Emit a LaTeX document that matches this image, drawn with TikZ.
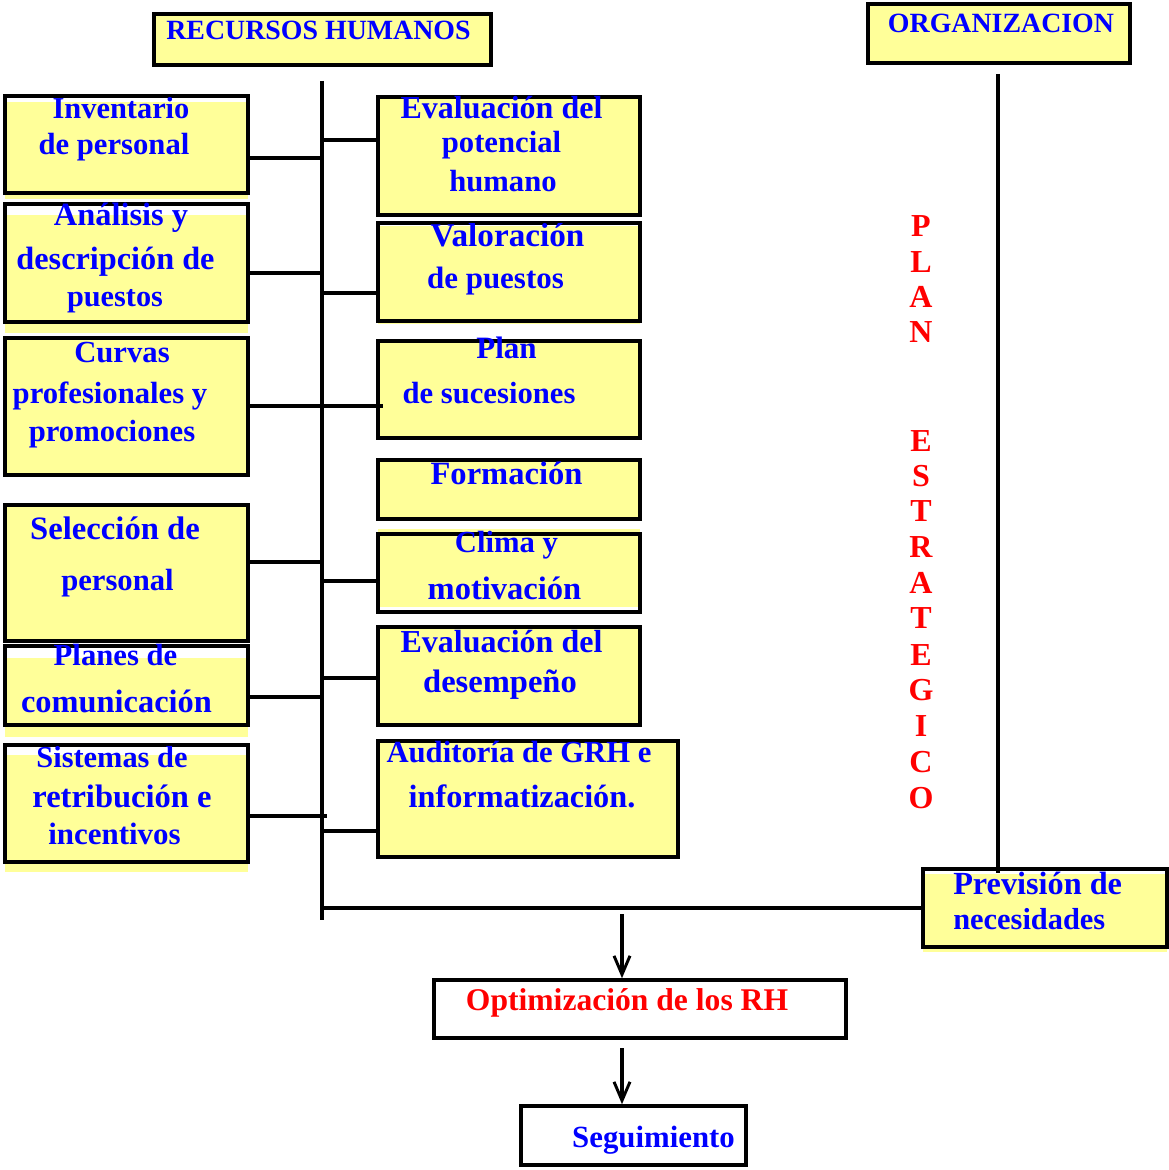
\documentclass[tikz,border=0pt]{standalone}
\usepackage{fontspec}
\setmainfont{Liberation Serif}
\usetikzlibrary{arrows.meta,fit}
\definecolor{boxfill}{RGB}{255,255,153}
\definecolor{txtblue}{RGB}{0,0,255}
\definecolor{txtred}{RGB}{255,0,0}

% yellow box: name, x1, y1, x2, y2, vertical shift of the yellow fill
\newcommand\hrbox[6]{%
  \fill[boxfill] ({#2},{#3+(#6)}) rectangle ({#4},{#5+(#6)});
  \node[frame, fit={(#2,#3) (#4,#5)}] (#1) {};
}
% one line of text: name, x, baseline y, style, text
\newcommand\hrline[5]{%
  \node[#4] (#1) at (#2,#3) {#5};
}

\begin{document}
\begin{tikzpicture}[x=0.75pt,y=-0.75pt,
  frame/.style={draw=black, line width=2.7pt, inner sep=0pt},
  plainbox/.style={frame, fill=white},
  conn/.style={draw=black, line width=2.4pt},
  flow/.style={conn, -{Straight Barb[length=14pt,width=12pt,line width=2.2pt]}},
  fs/.style={font=\fontsize{#1}{#1}\selectfont\bfseries},
  lbl/.style={text=txtblue, fs=23, inner sep=0pt, anchor=base},
  lblw/.style={lbl, anchor=base west},
  head/.style={lbl, fs=20.9},
  redlbl/.style={lbl, text=txtred},
  vletter/.style={text=txtred, fs=24, inner sep=0pt, anchor=center}
]
\useasboundingbox (0,0) rectangle (1168,1170);

% headers
\hrbox{rh}{154}{14}{491}{65}{0}
\hrbox{org}{868}{4}{1130}{63}{0}

% left column
\hrbox{inv}{5}{96}{248}{193}{6}
\hrbox{ana}{5}{204}{248}{322}{11}
\hrbox{cur}{5}{338}{248}{475}{0}
\hrbox{sel}{5}{505}{248}{641}{0}
\hrbox{pla}{5}{646}{248}{725}{12}
\hrbox{sis}{5}{745}{248}{862}{10}

% right column
\hrbox{evp}{378}{97}{640}{215}{2}
\hrbox{val}{378}{223}{640}{321}{3}
\hrbox{suc}{378}{341}{640}{438}{0}
\hrbox{for}{378}{460}{640}{519}{0}
\hrbox{cli}{378}{534}{640}{612}{-5}
\hrbox{evd}{378}{627}{640}{725}{0}
\hrbox{aud}{378}{741}{678}{857}{0}

% forecast box
\hrbox{pre}{923}{869}{1167}{947}{5}

% result boxes
\node[plainbox, fit={(434,980) (846,1038)}] (opt) {};
\node[plainbox, fit={(521,1106) (746,1165)}] (seg) {};

% trunk and branch points
\coordinate (trunkTop) at (322,81);
\coordinate (trunkBot) at (322,920);
\draw[conn] (trunkTop) -- (trunkBot);

\coordinate (jInv) at (322,158);
\coordinate (jAna) at (322,273);
\coordinate (jCur) at (383,406);
\coordinate (jSel) at (322,562);
\coordinate (jPla) at (322,697);
\coordinate (jSis) at (327,816);
\draw[conn] (inv.east |- jInv) -- (jInv);
\draw[conn] (ana.east |- jAna) -- (jAna);
\draw[conn] (cur.east |- jCur) -- (jCur);
\draw[conn] (sel.east |- jSel) -- (jSel);
\draw[conn] (pla.east |- jPla) -- (jPla);
\draw[conn] (sis.east |- jSis) -- (jSis);

\coordinate (jEvp) at (322,140);
\coordinate (jVal) at (322,293);
\coordinate (jCli) at (322,581);
\coordinate (jEvd) at (322,678);
\coordinate (jAud) at (322,831);
\draw[conn] (jEvp) -- (jEvp -| evp.west);
\draw[conn] (jVal) -- (jVal -| val.west);
\draw[conn] (jCli) -- (jCli -| cli.west);
\draw[conn] (jEvd) -- (jEvd -| evd.west);
\draw[conn] (jAud) -- (jAud -| aud.west);

% bottom link to the forecast box
\coordinate (jPre) at (322,908);
\draw[conn] (jPre) -- (jPre -| pre.west);

% organization line
\coordinate (orgTop) at (998,74);
\coordinate (orgBot) at (998,873);
\draw[conn] (orgTop) -- (orgBot);

% flow arrows
\coordinate (a1) at (622,914);
\coordinate (a2) at (622,1048);
\draw[flow] (a1) -- (a1 |- opt.north);
\draw[flow] (a2) -- (a2 |- seg.north);

% texts
\hrline{rhT}{318.5}{40}{head}{RECURSOS HUMANOS}
\hrline{orgT}{1001}{33}{head}{ORGANIZACION}

\hrline{inv1}{121}{119}{lbl,fs=22.8}{Inventario}
\hrline{inv2}{114}{155}{lbl}{de personal}
\hrline{ana1}{121}{225}{lbl,fs=24.3}{Análisis y}
\hrline{ana2}{115.5}{269}{lbl,fs=24.2}{descripción de}
\hrline{ana3}{115}{306}{lbl,fs=22.7}{puestos}
\hrline{cur1}{122}{362}{lbl}{Curvas}
\hrline{cur2}{110}{403}{lbl}{profesionales y}
\hrline{cur3}{112}{441}{lbl}{promociones}
\hrline{sel1}{115}{539}{lbl,fs=24.5}{Selección de}
\hrline{sel2}{117.5}{590}{lbl}{personal}
\hrline{pla1}{115.5}{665}{lbl}{Planes de}
\hrline{pla2}{116.5}{712}{lbl,fs=24.3}{comunicación}
\hrline{sis1}{112}{767}{lbl,fs=22.8}{Sistemas de}
\hrline{sis2}{122}{807}{lbl,fs=24.4}{retribución e}
\hrline{sis3}{114.5}{844}{lbl,fs=23.2}{incentivos}

\hrline{evp1}{501.5}{119}{lbl,fs=24}{Evaluación del}
\hrline{evp2}{501.5}{153}{lbl}{potencial}
\hrline{evp3}{503}{191}{lbl}{humano}
\hrline{val1}{507.5}{246}{lbl,fs=24.9}{Valoración}
\hrline{val2}{495.5}{288}{lbl,fs=23.2}{de puestos}
\hrline{suc1}{506.5}{358}{lbl,fs=23.3}{Plan}
\hrline{suc2}{489}{403}{lbl}{de sucesiones}
\hrline{for1}{506.5}{484}{lbl,fs=24.4}{Formación}
\hrline{cli1}{506.5}{552}{lbl}{Clima y}
\hrline{cli2}{504.5}{599}{lbl,fs=24.4}{motivación}
\hrline{evd1}{501.5}{652}{lbl,fs=24}{Evaluación del}
\hrline{evd2}{500}{692}{lbl,fs=24.4}{desempeño}
\hrline{aud1}{519}{762}{lbl}{Auditoría de GRH e}
\hrline{aud2}{522}{807}{lbl,fs=24.2}{informatización.}

\hrline{pre1}{953}{894}{lblw,fs=24.2}{Previsión de}
\hrline{pre2}{953}{929}{lblw,fs=22.8}{necesidades}

\hrline{optT}{627}{1010}{redlbl,fs=23.7}{Optimización de los RH}
\hrline{segT}{653.5}{1147}{lbl,fs=23.1}{Seguimiento}

% vertical caption
\foreach \ch/\yy [count=\i] in {P/226,L/262,A/297,N/332,E/441,S/476,T/511,R/547,A/583,T/618,E/655,G/690,I/726,C/762,O/798}
  \node[vletter] (pe\i) at (921,\yy) {\ch};
\end{tikzpicture}
\end{document}
